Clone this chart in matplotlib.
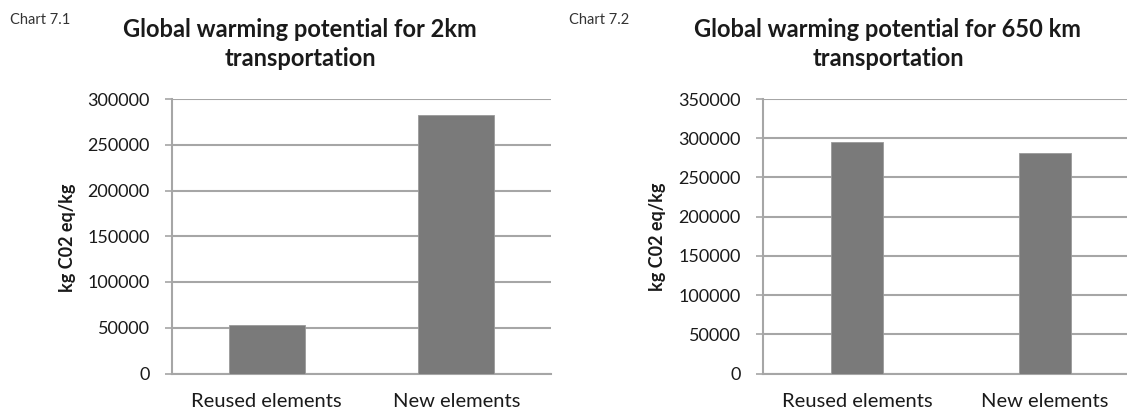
import matplotlib
matplotlib.use("Agg")
import matplotlib.pyplot as plt

plt.rcParams['font.family'] = ['Lato', 'DejaVu Sans']

categories = ["Reused elements", "New elements"]
values_2km = [52500, 282500]
values_650km = [295500, 281500]
yticks_2km = [0, 50000, 100000, 150000, 200000, 250000, 300000]
yticks_650km = [0, 50000, 100000, 150000, 200000, 250000, 300000, 350000]

W, H = 1127, 409
fig = plt.figure(figsize=(W / 100, H / 100), dpi=100)
fig.patch.set_facecolor("white")

bar_color = "#7a7a7a"
grid_color = "#a6a6a6"
text_color = "#1a1a1a"


def make_axes(x0, x1, ytop, ybot):
    return fig.add_axes([x0 / W, (H - ybot) / H, (x1 - x0) / W, (ybot - ytop) / H])


def style(ax, vals, ticks, width):
    x = list(range(len(categories)))
    ax.bar(x, vals, width=width, color=bar_color, edgecolor="#9a9a9a",
           linewidth=0.6, zorder=3)
    ax.set_xlim(-0.5, len(categories) - 0.5)
    ax.set_ylim(ticks[0], ticks[-1])
    ax.set_yticks(ticks)
    ax.set_yticklabels([str(t) for t in ticks], fontsize=13, color=text_color)
    ax.set_xticks(x)
    ax.set_xticklabels(categories, fontsize=14.5, color=text_color)
    ax.tick_params(axis="x", length=0, pad=14)
    ax.tick_params(axis="y", length=5, width=1.2, color=grid_color, pad=11)
    ax.yaxis.grid(True, color=grid_color, linewidth=1.5, zorder=0)
    ax.set_axisbelow(True)
    for s in ["top", "right"]:
        ax.spines[s].set_visible(False)
    for s in ["left", "bottom"]:
        ax.spines[s].set_color(grid_color)
        ax.spines[s].set_linewidth(1.5)
    ax.set_facecolor("white")


ax1 = make_axes(172, 551, 99, 373.5)
style(ax1, values_2km, yticks_2km, 0.40)
ax2 = make_axes(763, 1139, 99, 373.5)
style(ax2, values_650km, yticks_650km, 0.277)

# y labels
fig.text(68 / W, 1 - 238 / H, "kg C02 eq/kg", rotation=90, ha="center", va="center",
         fontsize=13, fontweight="bold", color=text_color)
fig.text(658 / W, 1 - 237 / H, "kg C02 eq/kg", rotation=90, ha="center", va="center",
         fontsize=13, fontweight="bold", color=text_color)

# titles
fig.text(300 / W, 1 - 44 / H, "Global warming potential for 2km\ntransportation",
         ha="center", va="center", fontsize=17, fontweight="bold", color=text_color,
         linespacing=1.3)
fig.text(888 / W, 1 - 44 / H, "Global warming potential for 650 km\ntransportation",
         ha="center", va="center", fontsize=17, fontweight="bold", color=text_color,
         linespacing=1.3)

fig.text(10 / W, 1 - 20 / H, "Chart 7.1", ha="left", va="center", fontsize=10.5,
         color="#333333")
fig.text(569 / W, 1 - 20 / H, "Chart 7.2", ha="left", va="center", fontsize=10.5,
         color="#333333")

fig.savefig("out.png", dpi=100, facecolor="white")
